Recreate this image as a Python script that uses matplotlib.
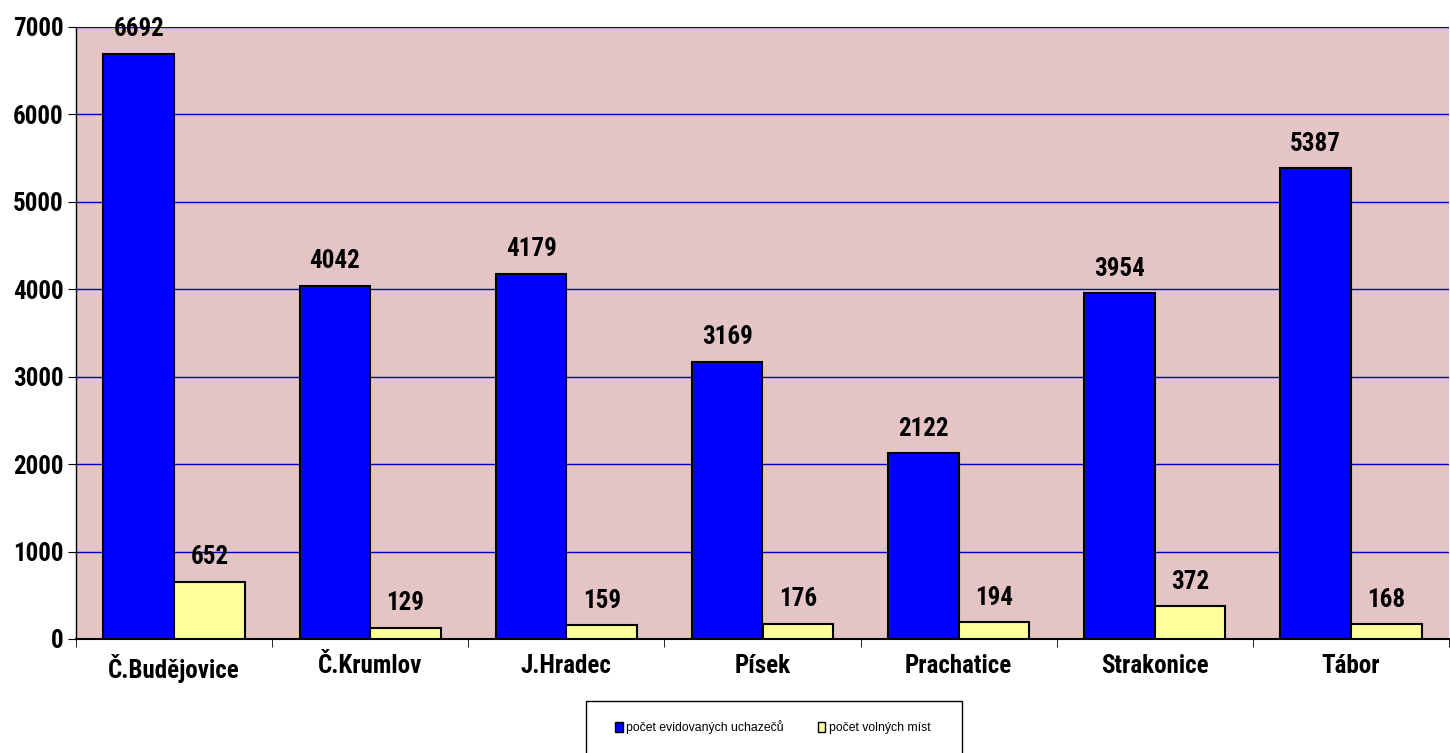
import numpy as np
import matplotlib.pyplot as plt
from matplotlib.patches import Patch, Rectangle

# data
okresy = ['Č.Budějovice', 'Č.Krumlov', 'J.Hradec', 'Písek', 'Prachatice', 'Strakonice', 'Tábor']
uchazeci = [6692, 4042, 4179, 3169, 2122, 3954, 5387]
volna_mista = [652, 129, 159, 176, 194, 372, 168]

plt.rcParams['font.family'] = ['Roboto Condensed', 'Liberation Sans', 'DejaVu Sans']

fig = plt.figure(figsize=(14.5, 7.53), dpi=100)
ax = fig.add_axes([76 / 1450, 1 - 639 / 753, (1449 - 76) / 1450, (639 - 27) / 753])
ax.set_facecolor('#e4c4c4')

x = np.arange(len(okresy))
w = 0.36
b1 = ax.bar(x - w / 2, uchazeci, w, color='#0000ff', edgecolor='black', linewidth=1.5, zorder=3)
b2 = ax.bar(x + w / 2, volna_mista, w, color='#ffff99', edgecolor='black', linewidth=1.5, zorder=3)

for bars in (b1, b2):
    for r in bars:
        ax.annotate(str(int(r.get_height())), (r.get_x() + r.get_width() / 2, r.get_height()),
                    xytext=(0, 9), textcoords='offset points', ha='center', va='bottom',
                    fontsize=18, fontweight='bold', zorder=4, annotation_clip=False)

ax.set_xlim(-0.5, len(okresy) - 0.5)
ax.set_ylim(0, 7000)
ax.set_yticks(range(0, 7001, 1000))
ax.yaxis.grid(True, color='#0000c0', linewidth=1)
ax.set_axisbelow(True)

ax.set_xticks(x)
ax.set_xticklabels(okresy, fontsize=18, fontweight='bold')
ax.set_xticks(np.arange(-0.5, len(okresy)), minor=True)
ax.tick_params(axis='x', which='major', length=0, pad=11)
ax.tick_params(axis='x', which='minor', length=6, direction='out', color='black')
ax.tick_params(axis='y', length=6, direction='out', labelsize=18, pad=3)
for t in ax.get_yticklabels():
    t.set_fontweight('bold')

ax.spines['top'].set_visible(False)
ax.spines['right'].set_visible(False)
ax.spines['left'].set_linewidth(1)
ax.spines['bottom'].set_linewidth(1.5)

# legend box runs off the bottom edge like in the original
fig.patches.append(Rectangle((586 / 1450, -0.05), (962 - 586) / 1450, 0.05 + 52 / 753,
                             transform=fig.transFigure, facecolor='white', edgecolor='black',
                             linewidth=1))
handles = [Patch(facecolor='#0000ff', edgecolor='black', label='počet evidovaných uchazečů'),
           Patch(facecolor='#ffff99', edgecolor='black', label='počet volných míst')]
leg = fig.legend(handles=handles, loc='center', bbox_to_anchor=(773 / 1450, 1 - 727 / 753),
                 ncol=2, frameon=False, handlelength=0.6, handleheight=0.9, handletextpad=0.3,
                 columnspacing=2.8, prop={'family': 'Liberation Sans', 'size': 8.8})

fig.savefig('out.png', dpi=100)
